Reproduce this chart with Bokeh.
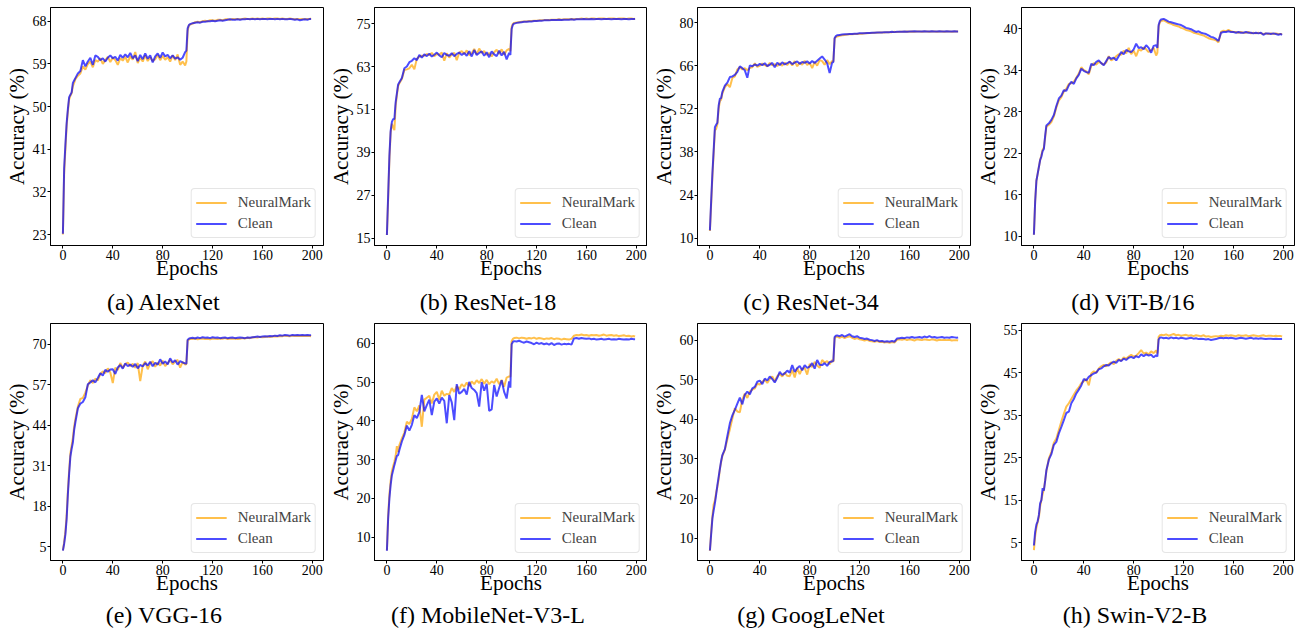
import math
from bokeh.plotting import figure
from bokeh.layouts import column, row
from bokeh.models import Range1d, FixedTicker, Title
from bokeh.embed import file_html
from bokeh.resources import INLINE

EPOCHS = list(range(0, 11)) + list(range(12, 99, 2)) + [99, 100, 101] + list(range(102, 199, 2)) + [199]

SERIES_NAMES = ["NeuralMark", "Clean"]
X_TICKS = [0, 40, 80, 120, 160, 200]

# ---------------- (a) AlexNet ----------------
AX_NM = [
    23.0, 36.0, 41.0, 46.0, 49.0, 51.5, 52.3, 52.8, 54.3, 55.0, 55.8,
    56.5, 57.0, 58.5, 57.8, 59.0, 59.5, 58.3, 59.8, 59.5, 60.2, 59.0,
    59.8, 60.5, 59.4, 60.3, 59.8, 58.8, 60.2, 59.7, 60.5, 59.3, 60.6,
    59.9, 61.5, 59.2, 60.3, 59.5, 60.8, 59.6, 60.4, 59.6, 60.0, 60.9,
    59.8, 60.7, 59.9, 60.4, 59.5, 60.8, 59.8, 61.0, 58.8, 59.5, 58.7,
    59.5, 66.0, 67.1,
    67.3, 67.5, 67.8, 67.9, 67.8, 68.0, 68.1, 68.0, 68.2, 68.2, 68.1,
    68.3, 68.3, 68.2, 68.4, 68.4, 68.3, 68.5, 68.4, 68.5, 68.4, 68.5,
    68.6, 68.5, 68.5, 68.6, 68.5, 68.6, 68.5, 68.6, 68.5, 68.6, 68.6,
    68.5, 68.6, 68.6, 68.5, 68.6, 68.5, 68.5, 68.6, 68.5, 68.4, 68.5,
    68.4, 68.5, 68.4, 68.5, 68.5, 68.6,
]
AX_CLEAN = [
    23.2, 37.0, 42.0, 46.5, 49.5, 52.0, 52.5, 53.0, 55.0, 55.5, 56.0,
    57.0, 57.5, 59.8, 58.5, 59.5, 60.3, 58.8, 60.8, 60.5, 59.8, 60.2,
    59.5, 60.3, 60.8, 60.2, 60.5, 59.7, 60.9, 60.3, 61.0, 60.4, 61.3,
    60.2, 60.8, 59.6, 60.9, 60.0, 61.2, 60.1, 60.8, 59.3, 60.6, 61.2,
    60.3, 61.4, 60.6, 60.9, 60.2, 60.8, 60.1, 60.4, 59.9, 60.3, 61.5,
    61.8, 66.5, 67.2,
    67.4, 67.6, 67.7, 67.8, 67.7, 67.9, 67.9, 68.0, 68.0, 68.1, 68.0,
    68.1, 68.2, 68.1, 68.2, 68.3, 68.4, 68.3, 68.3, 68.4, 68.3, 68.4,
    68.4, 68.5, 68.4, 68.5, 68.4, 68.5, 68.4, 68.5, 68.5, 68.4, 68.5,
    68.5, 68.4, 68.5, 68.4, 68.5, 68.4, 68.4, 68.5, 68.4, 68.3, 68.4,
    68.2, 68.3, 68.4, 68.3, 68.5, 68.5,
]

# ---------------- (b) ResNet-18 ----------------
R18_NM = [
    15.9, 26.0, 37.0, 44.5, 47.0, 46.0, 45.2, 52.0, 55.0, 57.5, 58.3,
    59.5, 62.0, 62.2, 62.5, 63.5, 62.2, 65.2, 65.8, 66.0, 66.0, 66.5,
    66.2, 66.8, 65.9, 66.5, 66.3, 66.9, 64.6, 66.7, 65.5, 66.4, 66.8,
    64.8, 66.9, 67.3, 66.5, 67.5, 66.2, 66.7, 67.9, 66.4, 68.0, 66.8,
    67.3, 66.2, 66.8, 65.8, 67.0, 67.7, 66.5, 67.8, 66.3, 67.5, 67.9,
    67.3, 74.0, 74.9,
    75.2, 75.3, 75.4, 75.5, 75.6, 75.6, 75.7, 75.7, 75.8, 75.8, 75.9,
    75.9, 76.0, 76.0, 76.0, 76.1, 76.1, 76.1, 76.2, 76.1, 76.2, 76.2,
    76.2, 76.3, 76.2, 76.3, 76.3, 76.4, 76.3, 76.4, 76.3, 76.4, 76.4,
    76.3, 76.4, 76.4, 76.4, 76.3, 76.4, 76.4, 76.4, 76.3, 76.4, 76.4,
    76.4, 76.3, 76.4, 76.4, 76.3, 76.4,
]
R18_CLEAN = [
    15.9, 27.0, 38.0, 45.0, 47.5, 48.3, 48.3, 53.0, 55.5, 58.0, 58.6,
    59.8, 62.5, 63.0, 64.2, 64.6, 65.3, 64.8, 66.2, 65.5, 66.4, 65.9,
    66.6, 65.8, 66.3, 66.9, 66.1, 65.6, 66.8, 66.2, 66.0, 66.7, 65.9,
    66.5, 66.9, 66.2, 66.8, 66.0, 67.3, 65.8, 67.6, 66.2, 66.8, 67.2,
    66.0, 67.0, 65.6, 67.2, 66.4, 65.9, 67.4, 66.1, 67.1, 65.0, 66.8,
    66.2, 73.5, 74.7,
    75.0, 75.2, 75.3, 75.4, 75.5, 75.5, 75.6, 75.6, 75.7, 75.7, 75.8,
    75.8, 75.9, 75.9, 75.9, 76.0, 76.0, 76.0, 76.1, 76.0, 76.1, 76.1,
    76.1, 76.2, 76.1, 76.2, 76.2, 76.2, 76.3, 76.2, 76.2, 76.3, 76.2,
    76.3, 76.3, 76.2, 76.3, 76.3, 76.3, 76.2, 76.3, 76.3, 76.3, 76.2,
    76.3, 76.3, 76.2, 76.3, 76.3, 76.3,
]

# ---------------- (c) ResNet-34 ----------------
R34_NM = [
    12.3, 21.0, 30.0, 37.5, 45.0, 45.5, 47.0, 52.0, 54.5, 55.0, 57.0,
    59.0, 60.0, 59.0, 62.0, 62.5, 64.8, 65.5, 64.8, 65.2, 64.5, 65.3,
    65.5, 66.8, 65.6, 66.0, 66.7, 66.2, 65.8, 66.9, 66.1, 66.5, 65.9,
    66.8, 66.0, 67.0, 66.2, 67.3, 66.1, 67.5, 65.8, 67.0, 66.3, 67.6,
    66.2, 66.9, 65.2, 67.2, 66.0, 67.8, 67.5, 66.3, 67.8, 66.5, 67.5,
    67.4, 74.8, 75.3,
    75.5, 75.7, 75.9, 76.0, 76.1, 76.2, 76.2, 76.3, 76.3, 76.4, 76.4,
    76.5, 76.5, 76.6, 76.6, 76.7, 76.7, 76.8, 76.8, 76.8, 76.9, 76.9,
    76.9, 77.0, 76.9, 77.0, 77.0, 77.0, 77.1, 77.0, 77.1, 77.0, 77.1,
    77.1, 77.0, 77.1, 77.1, 77.0, 77.1, 77.1, 77.0, 77.1, 77.1, 77.0,
    77.1, 77.1, 77.0, 77.1, 77.1, 77.1,
]
R34_CLEAN = [
    12.5, 22.0, 31.0, 38.5, 46.0, 46.8, 47.5, 53.0, 55.3, 55.5, 57.5,
    59.5, 60.5, 62.3, 62.5, 63.0, 64.0, 65.8, 65.2, 64.5, 62.1, 66.1,
    65.8, 66.4, 66.0, 66.6, 66.2, 66.8, 65.9, 66.3, 66.9, 65.5, 67.0,
    66.2, 67.1, 66.4, 66.8, 67.3, 66.5, 67.0, 67.4, 66.6, 67.2, 66.9,
    67.4, 66.7, 67.5, 66.9, 67.6, 68.3, 69.0, 68.0, 66.8, 63.6, 67.0,
    67.2, 75.0, 75.6,
    75.9, 76.0, 76.1, 76.2, 76.2, 76.3, 76.3, 76.4, 76.4, 76.5, 76.5,
    76.5, 76.6, 76.6, 76.7, 76.7, 76.8, 76.8, 76.8, 76.9, 76.9, 76.9,
    77.0, 76.9, 77.0, 77.0, 77.0, 77.1, 77.0, 77.1, 77.1, 77.2, 77.1,
    77.1, 77.1, 77.2, 77.1, 77.1, 77.2, 77.1, 77.1, 77.2, 77.1, 77.1,
    77.2, 77.1, 77.1, 77.2, 77.1, 77.1,
]

# ---------------- (d) ViT-B/16 ----------------
VIT_NM = [
    10.2, 15.0, 18.0, 19.0, 20.0, 21.0, 21.7, 22.5, 22.8, 24.2, 25.8,
    26.1, 26.5, 27.3, 28.6, 29.6, 30.1, 30.9, 31.3, 32.0, 32.1, 32.3,
    32.9, 33.5, 34.4, 34.0, 33.8, 33.4, 34.6, 35.0, 34.8, 35.2, 35.0,
    34.8, 35.1, 36.0, 35.4, 35.6, 36.0, 36.3, 36.2, 36.8, 36.4, 37.2,
    36.3, 36.8, 36.0, 37.0, 36.8, 37.3, 37.0, 36.6, 36.9, 37.2, 36.1,
    36.5, 40.3, 40.9,
    41.1, 41.2, 41.0, 40.8, 40.7, 40.5, 40.4, 40.3, 40.1, 40.0, 39.8,
    39.7, 39.6, 39.4, 39.3, 39.2, 39.1, 39.0, 38.8, 38.6, 38.5, 38.4,
    38.3, 38.0, 39.5, 39.7, 39.6, 39.8, 39.6, 39.5, 39.5, 39.4, 39.5,
    39.4, 39.4, 39.5, 39.3, 39.4, 39.3, 39.4, 39.3, 39.2, 39.3, 39.2,
    39.3, 39.2, 39.3, 39.2, 39.2, 39.2,
]
VIT_CLEAN = [
    10.2, 15.0, 18.0, 19.0, 20.0, 21.0, 21.5, 22.3, 22.6, 24.5, 26.0,
    26.3, 26.8, 27.5, 28.8, 29.9, 30.3, 31.1, 31.0, 31.8, 32.3, 32.0,
    32.8, 33.3, 34.2, 33.9, 33.7, 33.6, 34.9, 34.7, 35.2, 35.4, 35.0,
    34.7, 35.3, 35.9, 35.6, 35.8, 35.4, 36.0, 36.6, 36.3, 36.9, 36.7,
    36.6, 37.0, 37.8, 37.2, 37.3, 37.0, 37.6, 37.2, 36.5, 37.5, 37.6,
    37.2, 40.5, 41.1,
    41.3, 41.4, 41.2, 41.0, 40.9, 40.8, 40.7, 40.6, 40.5, 40.3, 40.1,
    40.0, 39.9, 39.7, 39.5, 39.6, 39.4, 39.3, 39.2, 39.0, 38.8, 38.7,
    38.5, 38.2, 39.4, 39.5, 39.5, 39.6, 39.5, 39.5, 39.4, 39.5, 39.4,
    39.4, 39.5, 39.4, 39.4, 39.3, 39.4, 39.3, 39.4, 39.1, 39.3, 39.3,
    39.2, 39.3, 39.2, 39.1, 39.2, 39.1,
]

# ---------------- (e) VGG-16 ----------------
VGG_NM = [
    3.9, 6.5, 10.0, 15.0, 23.0, 29.5, 35.0, 37.5, 40.0, 43.5, 46.0,
    50.0, 52.5, 52.8, 54.5, 56.8, 58.5, 57.6, 59.0, 58.4, 60.5, 61.3,
    60.8, 62.3, 61.0, 57.6, 62.5, 61.8, 64.0, 62.5, 63.6, 64.2, 63.0,
    63.8, 62.5, 64.0, 58.2, 63.2, 64.5, 62.0, 63.9, 64.6, 62.8, 64.2,
    63.2, 64.8, 63.0, 64.0, 65.0, 63.6, 64.5, 65.0, 62.5, 64.4, 63.5,
    63.7, 71.2, 71.5,
    71.8, 71.7, 71.9, 71.6, 71.8, 71.9, 71.7, 71.8, 71.6, 71.9, 71.8,
    71.7, 71.9, 71.8, 72.0, 71.7, 71.9, 71.8, 71.9, 71.7, 71.8, 72.0,
    71.9, 72.1, 72.0, 72.2, 72.3, 72.2, 72.4, 72.3, 72.4, 72.5, 72.4,
    72.5, 72.6, 72.5, 72.7, 72.6, 72.8, 72.7, 72.6, 72.8, 72.7, 72.8,
    72.7, 72.8, 72.7, 72.8, 72.7, 72.6,
]
VGG_CLEAN = [
    3.8, 6.0, 9.0, 14.0, 22.0, 28.5, 34.0, 36.5, 38.5, 42.5, 45.0,
    49.5, 51.0, 51.5, 53.0, 57.2, 57.8, 58.5, 57.8, 59.2, 60.7, 60.0,
    61.8, 61.2, 61.9, 62.0, 60.5, 62.6, 63.4, 62.2, 63.9, 63.0, 63.5,
    62.8, 63.7, 62.3, 63.4, 62.9, 64.0, 63.2, 64.4, 63.0, 64.1, 63.5,
    65.2, 63.8, 64.5, 63.6, 65.5, 64.2, 64.9, 63.5, 64.6, 64.2, 63.9,
    63.8, 71.5, 71.8,
    72.0, 72.1, 71.9, 72.2, 72.0, 72.3, 72.1, 72.2, 72.0, 72.3, 72.1,
    72.2, 72.0, 72.1, 72.2, 72.0, 72.1, 72.2, 72.0, 72.1, 72.2, 72.1,
    72.0, 72.2, 72.1, 72.3, 72.4, 72.5, 72.4, 72.5, 72.6, 72.5, 72.7,
    72.6, 72.8, 72.7, 72.9, 72.8, 73.0, 72.9, 72.8, 73.0, 72.9, 73.0,
    72.9, 73.0, 72.9, 73.0, 72.9, 72.9,
]

# ---------------- (f) MobileNet-V3-L ----------------
MOB_NM = [
    6.6, 15.5, 21.0, 24.5, 27.0, 28.3, 29.5, 31.0, 33.5, 32.0, 33.8,
    35.5, 37.0, 39.8, 39.2, 40.5, 43.5, 42.5, 44.0, 38.5, 45.5, 46.0,
    46.5, 44.5, 46.8, 47.5, 45.5, 47.8, 46.5, 47.0, 46.8, 48.5, 47.5,
    49.0, 48.2, 49.5, 48.8, 49.9, 49.0, 50.2, 49.5, 50.5, 49.8, 50.8,
    49.6, 50.6, 49.5, 50.2, 49.8, 50.9, 49.5, 50.6, 48.8, 51.2, 51.5,
    51.4, 60.5, 61.2,
    61.4, 61.5, 61.3, 61.5, 61.4, 61.2, 61.4, 61.3, 61.5, 61.2, 61.4,
    61.3, 61.1, 61.3, 61.2, 61.4, 61.1, 61.3, 61.2, 61.0, 61.2, 61.1,
    61.0, 61.2, 62.0, 62.2, 62.1, 62.3, 62.1, 62.2, 62.0, 62.2, 62.1,
    62.2, 62.0, 62.1, 62.3, 62.0, 62.1, 62.2, 62.0, 62.1, 61.9, 62.0,
    62.1, 61.9, 62.0, 61.8, 61.9, 61.8,
]
MOB_CLEAN = [
    6.5, 14.9, 20.0, 23.5, 26.0, 27.3, 28.6, 29.8, 31.0, 31.2, 32.5,
    34.7, 36.4, 38.8, 37.5, 39.0, 41.5, 40.7, 42.3, 46.7, 42.5, 44.1,
    45.5, 41.5, 45.0, 45.8, 44.5, 46.0, 45.2, 39.4, 46.7, 44.8, 40.2,
    49.5, 47.0, 47.5, 48.3, 46.8, 50.1, 48.5, 48.0, 47.2, 43.7, 50.0,
    47.8, 49.6, 42.6, 43.0, 49.3, 46.3, 48.5, 50.5, 47.5, 45.8, 50.2,
    48.6, 59.8, 60.4,
    60.6, 60.5, 60.7, 60.4, 60.2, 60.5, 60.3, 60.1, 59.8, 60.2, 59.9,
    60.1, 59.8, 60.0, 59.7, 60.1, 59.6, 59.9, 60.0, 59.7, 59.9, 59.8,
    59.9, 59.7, 61.3, 61.4, 61.2, 61.4, 61.3, 61.2, 61.3, 61.1, 61.2,
    61.0, 61.1, 61.2, 61.0, 61.1, 61.2, 61.0, 61.1, 61.0, 61.2, 61.1,
    61.0, 61.1, 61.0, 61.2, 61.1, 61.1,
]

# ---------------- (g) GoogLeNet ----------------
GOO_NM = [
    6.8, 11.5, 15.5, 18.5, 19.5, 21.5, 23.0, 24.8, 27.5, 29.2, 30.8,
    32.3, 35.0, 37.5, 40.2, 42.8, 42.0, 41.8, 45.0, 46.5, 45.4, 47.0,
    47.5, 47.8, 49.0, 48.8, 49.5, 50.0, 49.2, 50.2, 50.8, 49.6, 50.9,
    51.5, 50.8, 51.8, 51.0, 50.9, 52.5, 50.6, 53.0, 51.4, 52.8, 53.0,
    51.3, 54.0, 53.2, 54.5, 53.6, 53.0, 55.0, 54.3, 54.7, 53.9, 55.0,
    54.5, 60.5, 60.8,
    60.9, 60.6, 60.9, 60.5, 60.8, 61.0, 60.6, 60.3, 60.5, 60.2, 60.1,
    59.9, 60.1, 59.8, 59.7, 59.6, 59.8, 59.5, 59.6, 59.4, 59.5, 59.3,
    59.5, 59.4, 60.1, 60.2, 60.1, 60.3, 60.0, 60.2, 60.1, 59.9, 60.2,
    60.1, 60.0, 60.2, 60.1, 60.0, 60.2, 60.1, 59.9, 60.1, 60.0, 60.1,
    60.0, 60.1, 59.9, 60.0, 60.0, 59.9,
]
GOO_CLEAN = [
    6.9, 11.0, 15.0, 17.0, 18.8, 21.0, 23.4, 25.5, 27.5, 29.5, 31.0,
    32.5, 35.8, 39.0, 41.0, 42.4, 44.0, 45.5, 43.8, 46.2, 47.0, 46.3,
    47.8, 48.2, 49.5, 49.8, 48.9, 50.3, 49.8, 50.8, 50.2, 49.3, 50.5,
    52.0, 51.2, 51.6, 52.3, 51.8, 53.7, 52.0, 52.9, 53.5, 52.4, 53.7,
    53.0, 53.3, 54.2, 52.8, 55.0, 53.8, 53.7, 54.2, 53.5, 54.5, 54.6,
    54.8, 60.8, 61.1,
    61.2, 61.0, 61.3, 60.9, 61.2, 61.5, 61.0, 60.8, 61.0, 60.6, 60.5,
    60.3, 60.4, 60.1, 60.0, 59.8, 60.0, 59.7, 59.8, 59.6, 59.7, 59.6,
    59.8, 59.6, 60.4, 60.5, 60.6, 60.5, 60.7, 60.6, 60.8, 60.6, 60.7,
    60.8, 60.6, 60.9, 60.7, 61.0, 60.7, 60.8, 60.6, 60.7, 60.8, 60.6,
    60.7, 60.6, 60.8, 60.7, 60.6, 60.7,
]

# ---------------- (h) Swin-V2-B ----------------
SWIN_NM = [
    3.2, 6.5, 8.5, 9.8, 11.0, 13.5, 15.0, 16.5, 17.5, 19.5, 21.8,
    24.8, 26.3, 28.5, 29.5, 31.5, 33.5, 35.3, 37.0, 37.8, 38.8, 39.8,
    40.8, 41.5, 42.5, 43.0, 43.5, 42.0, 44.8, 45.3, 45.0, 46.0, 46.5,
    46.8, 46.5, 47.0, 47.4, 47.0, 47.8, 48.2, 47.8, 48.6, 48.3, 48.8,
    49.2, 48.8, 49.0, 49.6, 50.3, 49.5, 49.7, 49.3, 50.0, 49.6, 50.2,
    49.5, 53.4, 53.8,
    53.9, 53.8, 54.0, 53.7, 53.9, 54.1, 53.8, 53.9, 53.7, 53.8, 53.9,
    53.7, 53.8, 53.6, 53.8, 53.7, 53.6, 53.8, 53.5, 53.6, 53.4, 53.5,
    53.6, 53.5, 53.7, 53.6, 53.8, 53.7, 53.8, 53.7, 53.6, 53.8, 53.7,
    53.7, 53.8, 53.6, 53.7, 53.8, 53.7, 53.6, 53.7, 53.8, 53.6, 53.7,
    53.7, 53.6, 53.7, 53.6, 53.6, 53.5,
]
SWIN_CLEAN = [
    4.3, 7.5, 9.2, 10.0, 11.5, 14.2, 15.0, 17.8, 17.2, 19.5, 22.0,
    24.5, 25.8, 28.0, 28.7, 30.7, 32.2, 33.8, 35.5, 35.8, 37.8, 38.8,
    40.1, 41.0, 42.0, 43.5, 43.2, 44.0, 44.4, 44.8, 45.0, 45.8, 46.0,
    46.5, 46.8, 46.7, 47.2, 47.6, 47.3, 48.0, 47.7, 48.3, 48.0, 48.5,
    48.7, 48.4, 48.9, 48.6, 49.3, 48.9, 49.3, 49.0, 49.2, 48.6, 49.1,
    48.8, 52.8, 53.2,
    53.3, 53.1, 53.2, 53.0, 53.3, 53.1, 53.2, 53.0, 53.2, 53.1, 53.0,
    53.1, 53.2, 53.0, 53.1, 52.9, 53.0, 52.9, 52.8, 52.9, 52.7, 52.8,
    52.9, 53.1, 53.2, 53.1, 53.2, 53.1, 53.2, 53.1, 53.0, 53.1, 53.2,
    53.1, 53.0, 53.1, 53.2, 53.0, 53.1, 53.0, 53.1, 53.0, 52.9, 53.0,
    53.0, 52.9, 53.0, 52.9, 52.9, 52.9,
]

CAPTIONS = ["(a) AlexNet", "(b) ResNet-18", "(c) ResNet-34", "(d) ViT-B/16",
            "(e) VGG-16", "(f) MobileNet-V3-L", "(g) GoogLeNet", "(h) Swin-V2-B"]
NM_SERIES = [AX_NM, R18_NM, R34_NM, VIT_NM, VGG_NM, MOB_NM, GOO_NM, SWIN_NM]
CLEAN_SERIES = [AX_CLEAN, R18_CLEAN, R34_CLEAN, VIT_CLEAN, VGG_CLEAN, MOB_CLEAN, GOO_CLEAN, SWIN_CLEAN]
Y_TICKS = [
    [23, 32, 41, 50, 59, 68],
    [15, 27, 39, 51, 63, 75],
    [10, 24, 38, 52, 66, 80],
    [10, 16, 22, 28, 34, 40],
    [5, 18, 31, 44, 57, 70],
    [10, 20, 30, 40, 50, 60],
    [10, 20, 30, 40, 50, 60],
    [5, 15, 25, 35, 45, 55],
]
Y_LIMITS = [
    (20.7, 70.9), (12.95, 79.5), (7.6, 84.9), (8.65, 43.04),
    (0.62, 76.7), (3.99, 65.15), (4.37, 64.2), (0.77, 56.57),
]

for nm, cl, cap in zip(NM_SERIES, CLEAN_SERIES, CAPTIONS):
    assert len(nm) == len(EPOCHS), (cap, "nm", len(nm))
    assert len(cl) == len(EPOCHS), (cap, "clean", len(cl))

FONT = "Liberation Serif"
ORANGE = "#FFA500"
BLUE = "#0000FF"

# Times / Liberation Serif advance widths (1/1000 em) used to left-place captions
CHAR_W = {" ": 250, "(": 333, ")": 333, "/": 278, "-": 333,
          "0": 500, "1": 500, "2": 500, "3": 500, "4": 500, "5": 500, "6": 500, "7": 500, "8": 500, "9": 500,
          "a": 444, "b": 500, "c": 444, "d": 500, "e": 444, "f": 333, "g": 500, "h": 500,
          "i": 278, "l": 278, "n": 500, "o": 500, "s": 389, "t": 278, "w": 722, "x": 500,
          "A": 722, "B": 667, "G": 722, "L": 611, "M": 889, "N": 722, "R": 667, "S": 556,
          "T": 611, "V": 722}
CAP_PX = 24

COL_WIDTHS = [324, 323, 324, 325]
LEFT = 50
FW = 273
ROW_CFG = [  # (min_border_top, frame_height, min_border_bottom, caption standoff)
    (7, 238, 77, 12),
    (1, 237, 73, 8),
]


def make_panel(i):
    r, c = divmod(i, 4)
    top, fh, bottom, cap_standoff = ROW_CFG[r]
    right = COL_WIDTHS[c] - LEFT - FW
    y0, y1 = Y_LIMITS[i]
    p = figure(frame_width=FW, frame_height=fh, output_backend="svg",
               toolbar_location=None, tools="", title=None,
               x_range=Range1d(-9.95, 208.95), y_range=Range1d(y0, y1),
               min_border_left=LEFT, min_border_right=right,
               min_border_top=top, min_border_bottom=bottom)
    p.background_fill_color = "white"
    p.border_fill_color = "white"
    p.outline_line_color = "black"
    p.outline_line_width = 1
    p.grid.visible = False

    p.line(EPOCHS, NM_SERIES[i], line_color=ORANGE, line_width=2, line_alpha=0.7,
           legend_label=SERIES_NAMES[0])
    p.line(EPOCHS, CLEAN_SERIES[i], line_color=BLUE, line_width=2, line_alpha=0.7,
           legend_label=SERIES_NAMES[1])

    for ax in (p.xaxis[0], p.yaxis[0]):
        ax.major_label_text_font = FONT
        ax.major_label_text_font_size = "14px"
        ax.major_label_text_color = "black"
        ax.major_tick_in = 0
        ax.major_tick_out = 3
        ax.minor_tick_in = 0
        ax.minor_tick_out = 0
        ax.major_tick_line_color = "black"
        ax.axis_line_color = "black"
        ax.major_label_standoff = 1
        ax.axis_label_text_font = FONT
        ax.axis_label_text_font_size = "21px"
        ax.axis_label_text_font_style = "normal"
        ax.axis_label_text_color = "black"
    p.xaxis[0].ticker = FixedTicker(ticks=X_TICKS)
    p.yaxis[0].ticker = FixedTicker(ticks=Y_TICKS[i])
    p.xaxis[0].axis_label = "Epochs"
    p.xaxis[0].axis_label_standoff = -7
    p.yaxis[0].axis_label = "Accuracy (%)"
    p.yaxis[0].axis_label_standoff = 1

    lg = p.legend[0]
    lg.location = "bottom_right"
    lg.label_text_font = FONT
    lg.label_text_font_size = "15px"
    lg.glyph_width = 31
    lg.glyph_height = 19
    lg.label_height = 19
    lg.spacing = 2
    lg.padding = 4
    lg.margin = 7
    lg.label_standoff = 11
    lg.border_line_color = "#cccccc"
    lg.border_line_width = 1
    lg.background_fill_alpha = 0.8
    if "border_radius" in lg.properties():
        lg.border_radius = 4

    cap = CAPTIONS[i]
    cap_w = sum(CHAR_W.get(ch, 500) for ch in cap) * CAP_PX / 1000.0
    cap_left = FW / 2 - 23 - cap_w / 2
    p.add_layout(Title(text=cap, align="left", offset=cap_left,
                       text_font=FONT, text_font_size=f"{CAP_PX}px",
                       text_font_style="normal", text_color="black",
                       vertical_align="top", standoff=cap_standoff), "below")
    return p


panels = [make_panel(i) for i in range(8)]
layout = column(row(*panels[:4]), row(*panels[4:]))

open("out.html", "w").write(file_html(layout, INLINE))
